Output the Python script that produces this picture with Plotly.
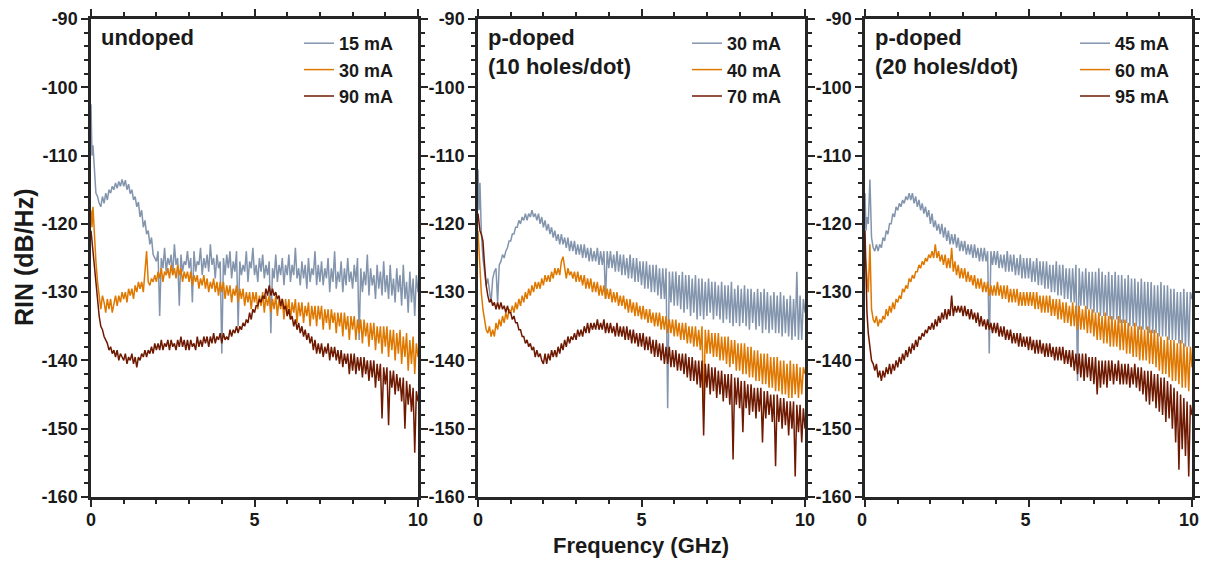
import plotly.graph_objects as go

# frequency grid (GHz), shared by every trace
FREQ = [0, 0.03, 0.06, 0.1, 0.15, 0.2, 0.25,
        0.3, 0.35, 0.4, 0.45, 0.5, 0.55, 0.6, 0.65, 0.7, 0.75, 0.8, 0.85, 0.9, 0.95,
        1.0, 1.05, 1.1, 1.15, 1.2, 1.25, 1.3, 1.35, 1.4, 1.45, 1.5, 1.55, 1.6, 1.65, 1.7, 1.75, 1.8, 1.85, 1.9, 1.95,
        2.0, 2.05, 2.1, 2.15, 2.2, 2.25, 2.3, 2.35, 2.4, 2.45, 2.5, 2.55, 2.6, 2.65, 2.7, 2.75, 2.8, 2.85, 2.9, 2.95,
        3.0, 3.05, 3.1, 3.15, 3.2, 3.25, 3.3, 3.35, 3.4, 3.45, 3.5, 3.55, 3.6, 3.65, 3.7, 3.75, 3.8, 3.85, 3.9, 3.95,
        4.0, 4.05, 4.1, 4.15, 4.2, 4.25, 4.3, 4.35, 4.4, 4.45, 4.5, 4.55, 4.6, 4.65, 4.7, 4.75, 4.8, 4.85, 4.9, 4.95,
        5.0, 5.05, 5.1, 5.15, 5.2, 5.25, 5.3, 5.35, 5.4, 5.45, 5.5, 5.55, 5.6, 5.65, 5.7, 5.75, 5.8, 5.85, 5.9, 5.95,
        6.0, 6.05, 6.1, 6.15, 6.2, 6.25, 6.3, 6.35, 6.4, 6.45, 6.5, 6.55, 6.6, 6.65, 6.7, 6.75, 6.8, 6.85, 6.9, 6.95,
        7.0, 7.05, 7.1, 7.15, 7.2, 7.25, 7.3, 7.35, 7.4, 7.45, 7.5, 7.55, 7.6, 7.65, 7.7, 7.75, 7.8, 7.85, 7.9, 7.95,
        8.0, 8.05, 8.1, 8.15, 8.2, 8.25, 8.3, 8.35, 8.4, 8.45, 8.5, 8.55, 8.6, 8.65, 8.7, 8.75, 8.8, 8.85, 8.9, 8.95,
        9.0, 9.05, 9.1, 9.15, 9.2, 9.25, 9.3, 9.35, 9.4, 9.45, 9.5, 9.55, 9.6, 9.65, 9.7, 9.75, 9.8, 9.85, 9.9, 9.95,
        10.0]

# RIN (dB/Hz), undoped laser
UNDOPED_15 = [-102.5, -110, -108.5, -112, -115.5, -116, -117,
              -117.5, -116, -117, -115.5, -116.5, -115, -115.5, -114.5, -115, -114, -114.8, -113.8, -114.5, -113.5,
              -114.5, -113.6, -115, -114.2, -115.6, -115, -116.5, -116, -117.5, -116.8,
              -119, -118, -120.5, -119.5, -121.5, -121, -123, -122, -124.5, -125,
              -125.5, -124, -133.5, -125, -126.5, -123.5, -127, -125, -126, -124.5,
              -127.5, -123, -126, -125, -132, -124.5, -127, -125.5, -126, -124,
              -126.5, -125, -131.5, -124, -127, -125.5, -126, -123.5, -127.5, -125,
              -126.5, -124.5, -127, -123, -126, -125, -128, -124.5, -126.5, -125.5,
              -139, -125, -127.5, -124.5, -126.5, -124, -128, -125.5, -127, -124,
              -135, -125.5, -127.5, -126, -127, -124, -128.5, -125.5, -126.5, -123.5,
              -127.5, -126, -128.5, -125, -127, -124.5, -128, -126, -127.5, -125.5,
              -136, -126.5, -128, -124.5, -128.5, -126, -127.5, -125, -129, -126,
              -127.5, -124.5, -128.5, -126, -127.5, -123.5, -128, -126.5, -129, -125.5,
              -128, -126, -129.5, -125, -128.5, -126.5, -127.5, -124, -129, -126,
              -128.5, -125.5, -129, -126.5, -128, -125, -130, -126.5, -128.5, -124,
              -129.5, -127, -128.5, -125.5, -130, -126.5, -129, -125, -128.5, -127,
              -129.5, -126, -128.5, -125, -137, -126.5, -130, -127, -129, -124.5,
              -130.5, -126.5, -129, -127.5, -131, -126, -129.5, -127, -130.5, -125.5,
              -130, -127.5, -131, -126, -130.5, -128, -131.5, -126.5, -130, -127.5,
              -132, -126, -131, -128.5, -133, -127, -131.5, -128, -133.5, -127.5,
              -130]
UNDOPED_30 = [-118, -120.5, -117.5, -122, -125.5, -128.5, -131,
              -132.5, -130.5, -131.5, -133, -131, -132.5, -131, -133, -131.5, -130.5, -132, -130.5, -131.5, -130,
              -131, -130, -131.5, -129.5, -130.5, -129.5, -131, -129, -130, -128.5,
              -129.5, -128.5, -130, -127.5, -124, -128.5, -129, -128, -128.5, -127.5,
              -128.5, -127, -128, -126.5, -128.5, -127, -127.5, -126.5, -128, -126,
              -127.5, -126.5, -128, -126, -127.5, -126.5, -128.5, -127, -128, -127,
              -128.5, -127, -129, -127.5, -128.5, -127.5, -129.5, -128, -129, -127.5,
              -129.5, -128, -130, -128.5, -129.5, -128, -130, -128.5, -130.5, -128.5,
              -130, -128.5, -131, -129, -130.5, -129, -131.5, -129.5, -130.5, -129,
              -131.5, -129.5, -131, -129.5, -132, -130, -131.5, -130, -132.5, -130,
              -131.5, -130, -132.5, -130.5, -132, -130, -133, -130.5, -132, -130.5,
              -133, -131, -132.5, -130.5, -133.5, -131, -132.5, -131, -134, -131,
              -133, -131, -134, -131.5, -133, -131, -134.5, -131.5, -133.5, -131.5,
              -134.5, -132, -133.5, -131.5, -135, -132, -134, -132, -135, -132,
              -134, -132, -135.5, -132.5, -134.5, -132.5, -135.5, -132.5, -134.5, -133,
              -136, -133, -135, -133, -136.5, -133, -135.5, -133.5, -137, -133.5,
              -135.5, -133.5, -137, -134, -136, -134, -137.5, -134, -136.5, -134.5,
              -138, -134.5, -137, -134.5, -138.5, -135, -137.5, -135, -139, -135,
              -138, -135, -139.5, -135.5, -138.5, -135.5, -140, -136, -139, -135.5,
              -140.5, -136.5, -139.5, -136, -141.5, -137, -140.5, -136.5, -142, -137.5,
              -139.5]
UNDOPED_90 = [-121, -122.5, -124.5, -126.5, -129, -131.5, -133.5,
              -135, -135.5, -136.5, -137, -137.5, -138.5, -138, -139, -138.5, -139.5, -138.5, -140, -139, -139.5,
              -140, -139, -140.5, -139.5, -140, -139, -140.5, -139.5, -141, -139.5,
              -140, -139, -139.5, -138.5, -139.5, -138.5, -139, -138, -139, -137.5,
              -138.5, -137.5, -138.5, -137, -138.5, -137.5, -138, -137, -138.5, -137,
              -138, -137.5, -138.5, -137, -138, -136.5, -138, -137, -138.5, -137,
              -138.5, -137, -138, -137.5, -138.5, -136.5, -138, -137, -138, -136.5,
              -137.5, -136.5, -138, -136.5, -137.5, -136, -137.5, -136.5, -137, -136,
              -137.5, -136, -137, -136.5, -137, -135.5, -136.5, -135.5, -136, -135,
              -136, -135, -135.5, -134.5, -135, -134, -134.5, -133, -134, -132.5,
              -133, -132, -132, -131, -131.5, -130.5, -131, -129.5, -130.5, -129,
              -130.5, -129.5, -130.5, -130, -131, -130.5, -132, -131, -132.5, -132,
              -133.5, -132.5, -134, -133.5, -135, -134, -135.5, -134.5, -136, -135,
              -136.5, -135.5, -137, -136, -137.5, -136.5, -138.5, -137, -139, -137.5,
              -139, -137.5, -139.5, -138, -139, -137.5, -140, -138, -139.5, -138,
              -140, -138.5, -140.5, -138.5, -141, -139, -140.5, -139, -142, -139,
              -141.5, -139, -142, -139.5, -141.5, -139.5, -142.5, -139.5, -142, -140,
              -143, -140, -142.5, -140, -144, -140.5, -143, -140.5, -148.5, -141,
              -143.5, -141, -149.5, -141.5, -144, -141.5, -145, -142, -144.5, -142.5,
              -146, -142.5, -150, -143, -146.5, -143.5, -147.5, -144, -153.5, -144.5,
              -146]

# p-doped, 10 holes/dot
PDOPED10_30 = [-112, -118, -114, -121, -125, -127.5, -129,
               -128, -130, -131.5, -128, -127, -126.5, -131.5, -126, -125.5, -124.5, -125, -124, -123.5, -122.5,
               -122.5, -121.5, -121.5, -120.5, -120.5, -119.5, -120, -119, -119.5, -118.5,
               -119.5, -118.5, -119, -118, -119, -118.5, -119.5, -118.5, -120, -119,
               -120.5, -119.5, -121, -120, -121.5, -120.5, -122, -121, -122.5, -121.5,
               -123, -121.5, -123, -122, -123.5, -122, -124, -122.5, -124, -122.5,
               -124.5, -123, -124.5, -123, -125, -123, -125, -123.5, -125.5, -123.5,
               -125.5, -124, -125.5, -123.5, -126, -124, -126, -124, -131, -124,
               -126.5, -124, -126.5, -124.5, -127, -124, -127, -124.5, -127.5, -124.5,
               -127.5, -125, -128, -124.5, -128, -125, -128.5, -125, -128.5, -125.5,
               -129, -125.5, -129.5, -125.5, -129.5, -126, -130, -126, -130, -126,
               -130.5, -126.5, -131, -126.5, -131, -126.5, -147, -127, -131.5, -127,
               -132, -127, -132, -127.5, -132.5, -127, -133, -127.5, -132.5, -127.5,
               -133.5, -128, -133, -127.5, -134, -128, -133.5, -128, -134, -128.5,
               -133.5, -128, -133, -128.5, -134, -128.5, -133.5, -129, -134, -128.5,
               -134.5, -129, -134, -129, -134.5, -128.5, -135, -129.5, -134.5, -129,
               -135, -129.5, -134.5, -129, -135, -129.5, -135.5, -129.5, -134.5, -130,
               -135.5, -129.5, -135, -130, -136, -129.5, -135.5, -130, -136, -130.5,
               -135.5, -130, -136, -130.5, -136, -130, -136.5, -130.5, -136, -131,
               -136.5, -130.5, -137, -131, -136.5, -127, -137, -130.5, -137, -131,
               -133]
PDOPED10_40 = [-121, -124, -127, -130, -132.5, -134, -135.5,
               -136, -135, -136.5, -135.5, -136.5, -134.5, -135.5, -134, -135, -133.5, -134.5, -133, -134, -132.5,
               -133, -132, -133, -131.5, -132.5, -131, -132, -130.5, -131.5, -130,
               -131, -129.5, -130.5, -129, -130, -128.5, -129.5, -128.5, -129.5, -128,
               -129, -127.5, -128.5, -127.5, -128.5, -127, -128, -126.5, -127.5, -126.5,
               -127.5, -125.5, -124.8, -126.5, -128, -126.5, -127.5, -127, -128, -127,
               -128.5, -127, -128.5, -127.5, -129, -127.5, -129.5, -128, -129.5, -128,
               -130, -128.5, -130, -128.5, -130.5, -129, -130.5, -129, -131, -129.5,
               -131, -129.5, -131.5, -130, -131.5, -130, -132, -130.5, -132, -130.5,
               -132.5, -131, -133, -131, -133, -131.5, -133.5, -131.5, -133.5, -132,
               -134, -132, -134, -132.5, -134.5, -132.5, -134.5, -133, -135, -133,
               -135, -133, -135.5, -133.5, -135.5, -133.5, -136, -134, -136, -134,
               -136.5, -134, -136.5, -134.5, -137, -134.5, -137, -134.5, -137.5, -135,
               -137.5, -135, -138, -135, -138, -135.5, -138.5, -135, -148, -135.5,
               -139, -135.5, -139, -136, -139.5, -136, -139.5, -136, -140, -136.5,
               -140, -136.5, -140.5, -136.5, -141, -137, -140.5, -137, -141.5, -137.5,
               -141.5, -137.5, -142, -137.5, -142, -138, -142.5, -138, -142.5, -138.5,
               -143, -138.5, -143, -139, -143.5, -139, -143.5, -139, -144, -139.5,
               -144, -139.5, -144.5, -139.5, -144.5, -140, -145, -140, -145, -140.5,
               -145.5, -140, -145.5, -140.5, -145, -140.5, -145.5, -141, -145, -141,
               -142]
PDOPED10_70 = [-118.5, -120, -121, -121.5, -122.5, -126, -129,
               -130.5, -131.5, -131, -132, -131.5, -132.5, -131.5, -132.5, -131.5, -132.5, -132, -133, -132, -133,
               -133, -134, -133.5, -134.5, -134.5, -135.5, -135.5, -136.5, -136.5, -137.5,
               -137, -138, -137.5, -138.5, -138, -139.5, -138.5, -139.5, -139, -140,
               -140.5, -139, -140.5, -139, -140, -138.5, -139.5, -138.5, -139.5, -138,
               -139, -137.5, -138.5, -137, -138, -136.5, -137.5, -136.5, -137, -136,
               -137, -135.5, -136.5, -135.5, -136.5, -135, -136, -134.5, -136, -134.5,
               -135.5, -134.5, -135.5, -134, -135.5, -134.5, -135.5, -134, -136, -134.5,
               -136, -134.5, -136, -135, -136.5, -134.5, -136.5, -135, -136.5, -135,
               -137, -135, -137, -135.5, -137.5, -135.5, -137.5, -136, -138, -136,
               -138, -136, -138.5, -136.5, -138.5, -136.5, -139, -137, -139.5, -137,
               -139.5, -137.5, -140, -137.5, -140.5, -138, -140.5, -138, -141, -138.5,
               -141, -138.5, -141.5, -139, -141.5, -139, -142, -139, -142.5, -139.5,
               -143, -139.5, -143, -140, -143.5, -140, -144, -140, -151, -140.5,
               -144, -140.5, -145, -141, -144.5, -141, -145.5, -141.5, -145, -141.5,
               -146, -142, -145.5, -142, -146.5, -142, -154.5, -142.5, -146.5, -142.5,
               -147, -143, -150.5, -143, -147, -143.5, -148, -143.5, -147.5, -144,
               -148.5, -144, -147.5, -144, -152, -144.5, -148.5, -144.5, -148, -145,
               -149, -145, -155.5, -145, -149, -145.5, -150, -145.5, -149.5, -146,
               -151, -146, -150, -146, -157, -146.5, -150.5, -146.5, -152, -147,
               -150]

# p-doped, 20 holes/dot
PDOPED20_45 = [-115.5, -121, -119, -120, -113.5, -122, -123.5,
               -124, -123, -124, -123, -123.5, -122, -122.5, -121, -121.5, -120, -120, -118.5, -119, -117.5,
               -118, -117, -117.5, -116.5, -117, -116, -116.5, -115.5, -116.5, -115.5,
               -117, -116, -117.5, -116.5, -118, -117, -118.5, -117.5, -119, -118,
               -120, -118.5, -120.5, -119.5, -121, -120, -121.5, -120, -122, -120.5,
               -122.5, -121, -123, -121.5, -123, -121.5, -123.5, -122, -124, -122.5,
               -124, -122.5, -124.5, -123, -124.5, -123, -125, -123, -125, -123.5,
               -125.5, -123.5, -125.5, -123.5, -125.5, -124, -139, -124, -126, -124,
               -126, -124, -126.5, -124.5, -126.5, -124.5, -127, -124, -127, -124.5,
               -127, -124.5, -127.5, -125, -127.5, -124.5, -128, -125, -128, -125,
               -128, -125, -128.5, -125.5, -128.5, -125, -129, -125.5, -129, -125.5,
               -129.5, -125.5, -129.5, -126, -130, -126, -130, -125.5, -130.5, -126,
               -130.5, -126, -131, -126.5, -131, -126.5, -131.5, -126.5, -131.5, -126,
               -143, -126.5, -132, -127, -132, -126.5, -132.5, -127, -132.5, -127,
               -133, -127, -133, -126.5, -133.5, -127, -133.5, -127.5, -133.5, -127,
               -134, -127.5, -134, -127, -134, -127.5, -134.5, -127.5, -134.5, -128,
               -134.5, -127.5, -135, -128, -135, -128, -135, -128.5, -135.5, -128,
               -135.5, -128.5, -135.5, -128.5, -136, -128.5, -136, -129, -136, -129,
               -136.5, -128.5, -136.5, -129, -136.5, -129, -137, -129.5, -137, -129.5,
               -137, -130, -137.5, -130, -137.5, -129.5, -138, -130, -138, -130,
               -131]
PDOPED20_60 = [-124.5, -126, -128, -130, -123, -132.5, -134,
               -134.5, -133.5, -135, -134, -134.5, -133.5, -134, -132.5, -133.5, -132, -133, -131.5, -132.5, -131,
               -131.5, -130.5, -131, -129.5, -130, -129, -129.5, -128, -128.5, -127.5,
               -128, -127, -127, -126, -126.5, -125.5, -126, -125, -125.5, -124.5,
               -125, -124, -125, -123, -125, -124, -125.5, -124.5, -126, -124.5,
               -126.5, -125, -126.5, -123.5, -127, -125.5, -127.5, -126, -128, -126.5,
               -128, -126.5, -128.5, -127, -128.5, -127.5, -129, -127.5, -129.5, -128,
               -129.5, -128, -130, -128.5, -130, -128.5, -130.5, -129, -130.5, -129,
               -130.5, -128.5, -130.5, -129, -131, -129, -131, -129, -131.5, -129.5,
               -131.5, -129.5, -131.5, -129.5, -132, -130, -132, -130, -132, -130,
               -132, -130, -132, -130, -132.5, -130, -132.5, -130.5, -133, -130.5,
               -133, -130.5, -133, -130.5, -133.5, -131, -133.5, -131, -134, -131,
               -134, -131.5, -134.5, -131.5, -134.5, -132, -135, -131.5, -135, -132,
               -135.5, -132, -135.5, -132.5, -135.5, -132, -136, -132.5, -136, -132.5,
               -136.5, -133, -137, -133, -137, -133.5, -137.5, -133, -137.5, -133.5,
               -138, -133.5, -138, -134, -138, -133.5, -138.5, -134, -138.5, -134,
               -139, -134.5, -139, -135, -139.5, -134.5, -139.5, -135, -140, -135,
               -140, -135.5, -140, -135, -140.5, -135.5, -140.5, -135.5, -141, -136,
               -141.5, -136.5, -142, -137, -142, -136.5, -142.5, -137, -143, -137,
               -143, -137.5, -143.5, -137, -144, -137.5, -144, -138, -144.5, -138,
               -141]
PDOPED20_95 = [-121, -128, -133, -136, -138.5, -140, -140.5,
               -141.5, -140.5, -142.5, -141.5, -143, -141.5, -142.5, -141, -142, -140.5, -142, -140.5, -141.5, -140,
               -141, -139.5, -140.5, -139, -140, -138.5, -139.5, -138, -139, -137.5,
               -138.5, -137, -138, -136.5, -137, -136, -136.5, -135.5, -136, -135,
               -135.5, -134.5, -135.5, -134, -135, -133.5, -134.5, -133, -134, -132.5,
               -134, -132.5, -133.5, -130.5, -133.5, -132, -133, -132, -133, -132,
               -133.5, -132, -133.5, -132.5, -134, -132.5, -134, -133, -134.5, -133,
               -135, -133.5, -135, -134, -135.5, -134, -135.5, -134.5, -136, -134.5,
               -136, -134.5, -136.5, -135, -136.5, -135, -137, -135.5, -137, -135.5,
               -137.5, -136, -137.5, -136, -138, -136, -138, -136.5, -138, -136.5,
               -138.5, -136.5, -138.5, -137, -139, -137, -139, -137, -139, -137.5,
               -139.5, -137.5, -139.5, -137.5, -139.5, -138, -140, -138, -140, -138,
               -140, -138, -140.5, -138.5, -140.5, -138.5, -141, -138.5, -141.5, -139,
               -142, -139, -142.5, -139, -143, -139, -142.5, -139.5, -143, -139.5,
               -143.5, -139.5, -145, -140, -144, -140, -143.5, -140, -144, -140,
               -143, -140, -143.5, -140.5, -143, -140, -143.5, -140.5, -143.5, -140.5,
               -143.5, -140.5, -144, -141, -143.5, -140.5, -144, -141, -144.5, -141,
               -145, -141.5, -146, -141.5, -146.5, -141.5, -146, -142, -147, -142,
               -147.5, -142.5, -148, -142.5, -149, -143, -148.5, -143.5, -150, -144,
               -152, -144.5, -156, -145, -153, -145.5, -154, -146, -157, -146.5,
               -148]

PANEL_TITLES = ['undoped', 'p-doped<br>(10 holes/dot)', 'p-doped<br>(20 holes/dot)']
PANEL_SERIES = [
    [('15 mA', UNDOPED_15), ('30 mA', UNDOPED_30), ('90 mA', UNDOPED_90)],
    [('30 mA', PDOPED10_30), ('40 mA', PDOPED10_40), ('70 mA', PDOPED10_70)],
    [('45 mA', PDOPED20_45), ('60 mA', PDOPED20_60), ('95 mA', PDOPED20_95)],
]
COLORS = ['#8394ad', '#df7800', '#6e1a02']

Y_TICKS = [-160, -150, -140, -130, -120, -110, -100, -90]
Y_TICK_TEXT = ['-160', '-150', '-140', '-130', '-120', '-110', '-100', '-90']
X_TICKS = [0, 5, 10]
X_TICK_TEXT = ['0', '5', '10']

for panel in PANEL_SERIES:
    for name, vals in panel:
        assert len(vals) == len(FREQ), (name, len(vals))

# the page body keeps its default 8px margin, so the figure is made
# 16px smaller than the window and every position is shifted by 8px
OFF = 8
W, H = 1208 - 2 * OFF, 567 - 2 * OFF
FONT = 'Liberation Sans, Arial, Helvetica, sans-serif'
INK = '#1a1a1a'
AXIS = '#262626'


def px_x(v):
    return (v - OFF) / W


def px_y(v):
    return 1 - (v - OFF) / H


# panel placement in window pixels (left, right), shared top/bottom
panel_px = [(91, 418), (478, 805), (865, 1192)]
top_px, bottom_px = 19, 497
legend_left_px = [299, 687, 1075]

fig = go.Figure()

for p, series in enumerate(PANEL_SERIES):
    suffix = '' if p == 0 else str(p + 1)
    for (name, vals), color in zip(series, COLORS):
        fig.add_trace(go.Scatter(
            x=FREQ, y=vals, name=name, mode='lines',
            line=dict(color=color, width=1.5),
            xaxis='x' + suffix, yaxis='y' + suffix,
            legend='legend' + suffix,
        ))

layout = dict(
    width=W, height=H,
    margin=dict(l=0, r=0, t=0, b=0),
    paper_bgcolor='white', plot_bgcolor='white',
    font=dict(family=FONT, color=INK),
    showlegend=True,
)

axis_common = dict(
    showline=True, linecolor=AXIS, linewidth=2.5, mirror='allticks',
    ticks='outside', tickwidth=2, ticklen=7, tickcolor=AXIS,
    showgrid=False, zeroline=False, automargin=False, ticklabeloverflow='allow',
    tickfont=dict(family=FONT, size=18, weight='bold', color=INK),
)

annotations = []
for p, (l, r) in enumerate(panel_px):
    suffix = '' if p == 0 else str(p + 1)
    layout['xaxis' + suffix] = dict(
        axis_common, domain=[px_x(l), px_x(r)], range=[0, 10],
        tickvals=X_TICKS, ticktext=X_TICK_TEXT,
        minor=dict(dtick=1, ticks='outside', ticklen=4, tickwidth=2, tickcolor=AXIS),
        anchor='y' + suffix,
        ticklabelshift=-3 if p == 2 else 0,
        ticklabelstandoff=-2,
    )
    layout['yaxis' + suffix] = dict(
        axis_common, domain=[px_y(bottom_px), px_y(top_px)], range=[-160, -90],
        tickvals=Y_TICKS, ticktext=Y_TICK_TEXT,
        minor=dict(dtick=2, ticks='outside', ticklen=4, tickwidth=2, tickcolor=AXIS),
        anchor='x' + suffix,
    )
    layout['legend' + suffix] = dict(
        x=px_x(legend_left_px[p]), y=px_y(25), xanchor='left', yanchor='top',
        bgcolor='rgba(0,0,0,0)', itemwidth=30, tracegroupgap=0,
        font=dict(family=FONT, size=18, weight='bold', color=INK),
    )
    annotations.append(dict(
        text=PANEL_TITLES[p], xref='paper', yref='paper',
        x=px_x(l + 8), y=px_y(23), xanchor='left', yanchor='top',
        align='left', showarrow=False,
        font=dict(family=FONT, size=22, weight='bold', color=INK),
    ))

annotations.append(dict(
    text='RIN (dB/Hz)', xref='paper', yref='paper', x=px_x(24), y=px_y(258),
    textangle=-90, showarrow=False, xanchor='center', yanchor='middle',
    font=dict(family=FONT, size=25, weight='bold', color=INK),
))
annotations.append(dict(
    text='Frequency (GHz)', xref='paper', yref='paper', x=px_x(641), y=px_y(545),
    showarrow=False, xanchor='center', yanchor='middle',
    font=dict(family=FONT, size=22, weight='bold', color=INK),
))
layout['annotations'] = annotations

fig.update_layout(**layout)
fig.write_html("out.html")
